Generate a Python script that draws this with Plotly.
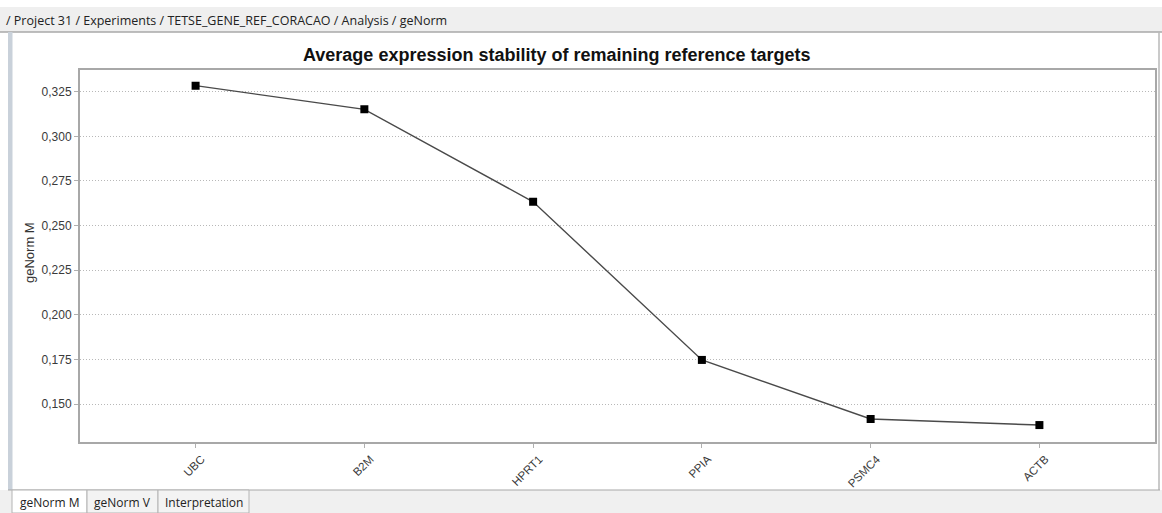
import plotly.graph_objects as go

# geNorm M values per remaining reference target
genes = ["UBC", "B2M", "HPRT1", "PPIA", "PSMC4", "ACTB"]
genorm_m = [0.3284, 0.3151, 0.2633, 0.1747, 0.1416, 0.1382]

title_text = "Average expression stability of remaining reference targets"
breadcrumb = "/ Project 31 / Experiments / TETSE_GENE_REF_CORACAO / Analysis / geNorm"
tabs = ["geNorm M", "geNorm V", "Interpretation"]

W, H = 1162, 513


def px(x):
    return x / W


def py(y):
    return 1 - y / H


fig = go.Figure()
fig.add_trace(go.Scatter(
    x=genes, y=genorm_m, mode="lines+markers",
    line=dict(color="#4a4a4a", width=1.4),
    marker=dict(symbol="square", size=8, color="#000000"),
    hoverinfo="x+y", showlegend=False,
))

shapes = [
    # breadcrumb bar
    dict(type="rect", xref="paper", yref="paper", x0=0, x1=1, y0=py(32), y1=py(7),
         fillcolor="#efefef", line=dict(width=0), layer="below"),
    dict(type="line", xref="paper", yref="paper", x0=0, x1=1, y0=py(32), y1=py(32),
         line=dict(color="#a8a8a8", width=1.5)),
    # left and right panel borders
    dict(type="rect", xref="paper", yref="paper", x0=px(8), x1=px(12.5), y0=py(490), y1=py(32),
         fillcolor="#c9d1da", line=dict(width=0)),
    dict(type="line", xref="paper", yref="paper", x0=px(1159), x1=px(1159), y0=py(490), y1=py(32),
         line=dict(color="#b8b8b8", width=1.5)),
    # tab strip
    dict(type="rect", xref="paper", yref="paper", x0=0, x1=1, y0=0, y1=py(490),
         fillcolor="#f0f0f0", line=dict(width=0), layer="below"),
    dict(type="line", xref="paper", yref="paper", x0=px(8), x1=px(1160), y0=py(490), y1=py(490),
         line=dict(color="#a8a8a8", width=1.2)),
]

tab_edges = [12, 87, 158, 249]
annotations = [
    dict(text=breadcrumb, x=px(4), y=py(20), xref="paper", yref="paper",
         xanchor="left", yanchor="middle", showarrow=False,
         font=dict(family="Open Sans", size=12.5, color="#222222")),
    dict(text="<b>" + title_text + "</b>", x=px(557), y=py(55), xref="paper", yref="paper",
         xanchor="center", yanchor="middle", showarrow=False,
         font=dict(family="Liberation Sans", size=18, color="#111111")),
    dict(text="geNorm M", x=px(29), y=py(253), xref="paper", yref="paper",
         textangle=-90, xanchor="center", yanchor="middle", showarrow=False,
         font=dict(family="Liberation Sans", size=13, color="#333333")),
]
for i, name in enumerate(tabs):
    x0, x1 = tab_edges[i], tab_edges[i + 1]
    shapes.append(dict(type="rect", xref="paper", yref="paper",
                       x0=px(x0), x1=px(x1), y0=py(513), y1=py(490),
                       fillcolor="#ffffff" if i == 0 else "#f3f3f3",
                       line=dict(color="#b4b4b4", width=1)))
    annotations.append(dict(text=name, x=px((x0 + x1) / 2), y=py(502), xref="paper", yref="paper",
                            xanchor="center", yanchor="middle", showarrow=False,
                            font=dict(family="Open Sans", size=12, color="#222222")))

fig.update_layout(
    width=W, height=H,
    margin=dict(l=0, r=0, t=0, b=0),
    paper_bgcolor="#ffffff", plot_bgcolor="#ffffff",
    separators=",.",
    shapes=shapes, annotations=annotations,
    xaxis=dict(
        domain=[px(80), px(1155)],
        range=[-0.685, 5.685],
        tickangle=-45,
        ticks="outside", ticklen=4, tickcolor="#b0b0b0",
        ticklabelshift=6,
        tickfont=dict(family="Liberation Sans", size=11.5, color="#3a3a3a"),
        showgrid=False, zeroline=False,
        showline=True, mirror=True, linecolor="#a8a8a8", linewidth=2,
    ),
    yaxis=dict(
        domain=[py(442), py(69.5)],
        range=[0.12871, 0.33744],
        dtick=0.025, tick0=0.15, tickformat=".3f",
        ticks="outside", ticklen=4, tickcolor="#b0b0b0",
        tickfont=dict(family="Liberation Sans", size=12, color="#3a3a3a"),
        showgrid=True, gridcolor="#b8b8b8", griddash="1px,2px", gridwidth=1,
        zeroline=False,
        showline=True, mirror=True, linecolor="#a8a8a8", linewidth=2,
    ),
)

fig.write_html("out.html")
